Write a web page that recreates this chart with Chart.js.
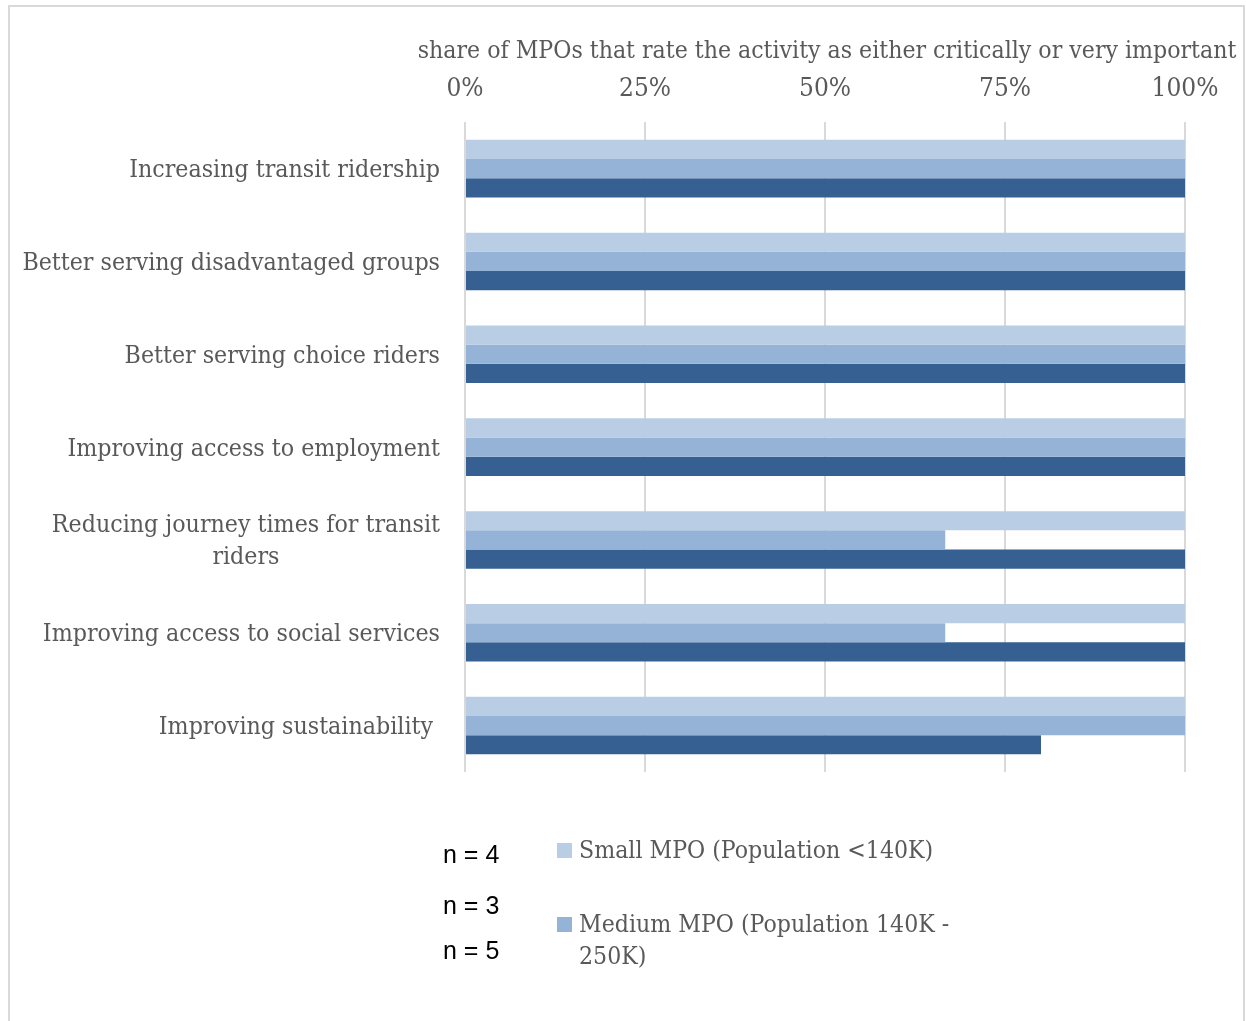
<!DOCTYPE html>
<html>
<head>
<meta charset="utf-8">
<script src="https://cdn.jsdelivr.net/npm/chart.js@4.4.1/dist/chart.umd.min.js"></script>
<style>
  html, body { margin: 0; padding: 0; background: #fff; }
  body { width: 1246px; height: 1021px; position: relative; overflow: hidden; }
  #frame { position: absolute; left: 8px; top: 5px; width: 1237px; height: 1040px; border: 2px solid #d9d9d9; box-sizing: border-box; }
  #wrap { position: absolute; left: 0; top: 0; width: 1246px; height: 1021px; }
  #legend { position: absolute; left: 557px; top: 834px; width: 405px; height: 146px; overflow: hidden;
            font-family: 'DejaVu Serif Condensed', 'Liberation Serif', serif; font-size: 24.6px; color: #595959; line-height: 32px; }
  .item { display: flex; align-items: flex-start; margin-bottom: 42px; }
  .swatch { width: 15px; height: 15px; flex: none; margin-top: 9px; margin-right: 7px; }
  #ns { position: absolute; left: 443px; top: 840px; font-family: 'Liberation Sans', Arial, sans-serif; font-size: 25px; color: #000; }
  #ns div { position: absolute; left: 0; white-space: nowrap; }
</style>
</head>
<body>
<div id="frame"></div>
<div id="wrap"><canvas id="chart" width="1246" height="1021"></canvas></div>
<div id="ns"></div>
<div id="legend"></div>
<script>
// Activities rated by MPOs, listed top to bottom
const categories = [
  'Increasing transit ridership',
  'Better serving disadvantaged groups',
  'Better serving choice riders',
  'Improving access to employment',
  ['Reducing journey times for transit', 'riders'],
  'Improving access to social services',
  'Improving sustainability '
];
const seriesLabels = [
  'Small MPO (Population <140K)',
  'Medium MPO (Population 140K - 250K)',
  'Large MPO (Population >250K)'
];
// Share of MPOs (%) rating the activity critically or very important
const smallMPO  = [100, 100, 100, 100, 100, 100, 100];
const mediumMPO = [100, 100, 100, 100, 66.7, 66.7, 100];
const largeMPO  = [100, 100, 100, 100, 100, 100, 80];
const sampleSizes = ['n = 4', 'n = 3', 'n = 5'];
const xTicks = [0, 25, 50, 75, 100];
const axisTitle = 'share of MPOs that rate the activity as either critically or very important';

const colors = ['#b9cde5', '#95b3d7', '#366092'];
const serif = "'DejaVu Serif Condensed', 'Liberation Serif', serif";
const textGrey = '#595959';

// Category labels: right-aligned block, multi-line labels centred within it;
// the value-axis title is centred over the plot and may run past its edges
const annotations = {
  id: 'annotations',
  afterDraw(chart) {
    const { ctx, chartArea, scales: { y } } = chart;
    const right = chartArea.left - 25;
    const lh = 32;
    ctx.save();
    ctx.font = '24.7px ' + serif;
    ctx.fillStyle = textGrey;
    ctx.textBaseline = 'middle';
    ctx.textAlign = 'center';
    categories.forEach((label, i) => {
      const lines = Array.isArray(label) ? label : [label];
      const cy = y.getPixelForValue(i) + 2;
      const w = Math.max(...lines.map(l => ctx.measureText(l).width));
      const cx = right - w / 2;
      lines.forEach((l, j) => {
        ctx.fillText(l, cx, cy + (j - (lines.length - 1) / 2) * lh);
      });
    });
    ctx.font = '24.6px ' + serif;
    ctx.fillText(axisTitle, (chartArea.left + chartArea.right) / 2 + 2, chartArea.top - 71);
    ctx.restore();
  }
};

new Chart(document.getElementById('chart'), {
  type: 'bar',
  data: {
    labels: categories,
    datasets: [smallMPO, mediumMPO, largeMPO].map((d, i) => ({
      label: seriesLabels[i],
      data: d,
      backgroundColor: colors[i],
      borderWidth: 0,
      barPercentage: 1,
      categoryPercentage: 0.62
    }))
  },
  options: {
    indexAxis: 'y',
    responsive: false,
    animation: false,
    events: [],
    layout: { padding: { left: 465, right: 61, top: 57, bottom: 249 } },
    plugins: { legend: { display: false }, tooltip: { enabled: false } },
    scales: {
      x: {
        position: 'top',
        min: 0, max: 100,
        afterBuildTicks: axis => { axis.ticks = xTicks.map(v => ({ value: v })); },
        ticks: {
          callback: v => v + '%',
          font: { family: serif, size: 26 },
          color: textGrey,
          padding: 17
        },
        grid: { color: '#d9d9d9', lineWidth: 2, drawTicks: false },
        border: { display: false }
      },
      y: { display: false }
    }
  },
  plugins: [annotations]
});

// Sample size notes
const ns = document.getElementById('ns');
const nOffsets = [0, 51, 96];
sampleSizes.forEach((t, i) => {
  const d = document.createElement('div');
  d.textContent = t;
  d.style.top = nOffsets[i] + 'px';
  ns.appendChild(d);
});

// Series legend (box clips the last entry)
const legend = document.getElementById('legend');
seriesLabels.forEach((t, i) => {
  const item = document.createElement('div');
  item.className = 'item';
  const sw = document.createElement('div');
  sw.className = 'swatch';
  sw.style.background = colors[i];
  const tx = document.createElement('div');
  tx.textContent = t;
  item.appendChild(sw);
  item.appendChild(tx);
  legend.appendChild(item);
});
</script>
</body>
</html>
